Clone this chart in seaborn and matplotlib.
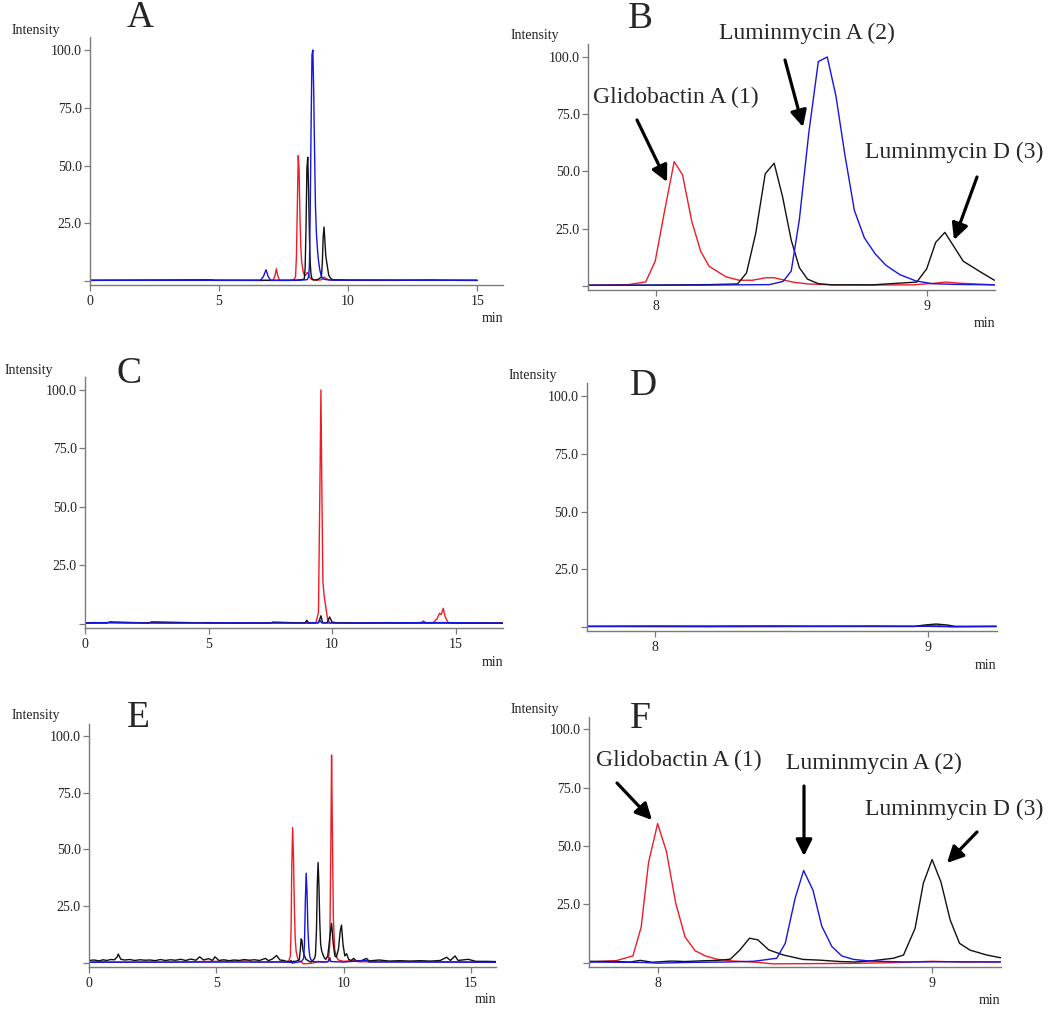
import numpy as np
import pandas as pd
import seaborn as sns
import matplotlib.pyplot as plt

# ---- Panel B: zoom (7.75-9.25 min) of chromatogram A ----
b_red_t = [7.75, 7.9, 7.963, 7.998, 8.033, 8.068, 8.099, 8.133, 8.166, 8.197, 8.259, 8.308,
           8.357, 8.406, 8.437, 8.505, 8.56, 8.65, 8.8, 8.95, 9.03, 9.07, 9.12, 9.25]
b_red = [0.3, 0.6, 1.8, 10.8, 33, 54.3, 48.5, 28.2, 15.1, 8.6, 4.0, 2.5,
         2.5, 3.6, 3.6, 1.7, 0.9, 0.5, 0.4, 0.5, 1.2, 1.7, 1.2, 0.5]
b_black_t = [7.75, 8.0, 8.2, 8.302, 8.335, 8.369, 8.404, 8.437, 8.468, 8.50, 8.53, 8.56, 8.60,
             8.65, 8.8, 8.963, 9.0, 9.033, 9.067, 9.135, 9.2, 9.25]
b_black = [0.3, 0.4, 0.6, 0.9, 5.7, 23, 49, 53.6, 39, 20, 8, 3, 1.0,
           0.5, 0.5, 1.7, 7.5, 19, 23.4, 10.8, 6.0, 2.5]
b_blue_t = [7.75, 8.0, 8.2, 8.42, 8.47, 8.50, 8.53, 8.565, 8.60, 8.633, 8.665, 8.697, 8.733,
            8.77, 8.81, 8.85, 8.9, 8.96, 9.02, 9.1, 9.25]
b_blue = [0.3, 0.3, 0.4, 0.6, 2, 6.5, 29, 67, 98, 100, 83, 58, 33,
          21, 14, 9, 5, 2.2, 1.0, 0.7, 0.5]

# ---- Panel A: parts of the full run outside the zoom window ----
a_red_pre_t = [0, 2, 4.7, 6.5, 7.1, 7.17, 7.22, 7.27, 7.34, 7.5]
a_red_pre = [0.3, 0.3, 0.4, 0.3, 0.3, 2.5, 5.3, 2.5, 0.3, 0.3]
a_red_post_t = [9.4, 10, 12, 13.2, 13.6, 14.2, 15]
a_red_post = [0.4, 0.3, 0.3, 0.5, 0.4, 0.3, 0.3]
a_black_pre_t = [0, 4.7, 4.8, 7.5]
a_black_pre = [0.3, 0.5, 0.3, 0.3]
a_black_post_t = [9.32, 9.4, 10, 15]
a_black_post = [1.2, 0.6, 0.4, 0.3]
a_blue_pre_t = [0, 6.6, 6.72, 6.82, 6.9, 7.0, 7.5]
a_blue_pre = [0.3, 0.3, 2, 4.9, 2, 0.3, 0.3]
a_blue_post_t = [9.35, 15]
a_blue_post = [0.4, 0.3]

# ---- Panel C ----
c_red_t = [0, 0.3, 0.9, 1.7, 2.4, 2.6, 3.5, 4.3, 5.0, 6.0, 7.5, 8.2, 9.0, 9.35, 9.45, 9.51,
           9.55, 9.59, 9.63, 9.68, 9.75, 9.82, 9.9, 10.2, 11.0, 12.3, 13.0, 13.6, 13.7, 13.8,
           14.1, 14.25, 14.35, 14.42, 14.5, 14.58, 14.7, 15.0, 16.0, 16.93]
c_red = [0.3, 0.5, 0.6, 0.4, 0.5, 0.6, 0.4, 0.5, 0.6, 0.4, 0.5, 0.4, 0.6, 0.5, 5, 60,
         100, 55, 18, 12, 7, 2, 0.6, 0.5, 0.4, 0.6, 0.5, 0.6, 1.3, 0.5,
         0.6, 2.2, 4.6, 4.0, 6.7, 3.0, 0.6, 0.4, 0.3, 0.3]
c_black_t = [0, 0.9, 1.0, 2.6, 2.7, 5.0, 7.5, 7.6, 8.9, 8.98, 9.05, 9.45, 9.55, 9.62, 9.8,
             9.9, 10.0, 10.2, 11, 13, 16.93]
c_black = [0.4, 0.4, 0.9, 0.4, 0.9, 0.4, 0.4, 0.8, 0.4, 1.6, 0.4, 0.5, 3.5, 0.5, 0.5,
           3.0, 0.8, 0.5, 0.4, 0.4, 0.4]
c_blue_t = [0, 0.3, 3, 6, 9.0, 9.45, 9.5, 9.58, 10, 14.5, 16.93]
c_blue = [0.4, 0.6, 0.4, 0.5, 0.4, 0.6, 1.6, 0.5, 0.4, 0.6, 0.4]

# ---- Panel D ----
d_red_t = [7.75, 8.2, 8.6, 8.95, 9.02, 9.08, 9.25]
d_red = [0.2, 0.1, 0.2, 0.2, 0.8, 0.2, 0.2]
d_black_t = [7.75, 8.4, 8.95, 8.99, 9.03, 9.07, 9.1, 9.25]
d_black = [0.3, 0.4, 0.3, 0.9, 1.3, 0.9, 0.3, 0.3]
d_blue_t = [7.75, 8.0, 8.2, 8.4, 8.6, 8.8, 9.0, 9.1, 9.25]
d_blue = [0.3, 0.4, 0.3, 0.4, 0.3, 0.4, 0.3, 0.1, 0.3]

# ---- Panel F: zoom (7.75-9.25 min) of chromatogram E ----
f_red_t = [7.75, 7.85, 7.91, 7.94, 7.967, 8.0, 8.032, 8.066, 8.1, 8.137, 8.174, 8.216, 8.265,
           8.36, 8.42, 8.55, 8.7, 8.85, 8.95, 9.0, 9.1, 9.25]
f_red = [0.3, 0.9, 2.9, 15.2, 43, 59.6, 47.7, 25.5, 11, 5.1, 2.9, 1.5, 0.8,
         0.2, -0.5, -0.4, -0.3, 0.0, 0.4, 0.6, 0.3, 0.3]
f_black_t = [7.75, 7.85, 7.9, 7.937, 7.98, 8.05, 8.1, 8.16, 8.22, 8.265, 8.30, 8.335, 8.365,
             8.405, 8.458, 8.53, 8.59, 8.665, 8.72, 8.786, 8.859, 8.896, 8.938, 8.968, 9.0,
             9.032, 9.066, 9.1, 9.138, 9.199, 9.25]
f_black = [0.6, 0.5, 0.3, 1.0, 0.2, 0.7, 0.5, 0.8, 1.0, 1.5, 5.5, 10.5, 9.8,
           5.5, 3.3, 1.4, 1.1, 0.5, 0.3, 0.9, 1.9, 3.3, 14.7, 34, 44.2,
           34.7, 18.3, 8.3, 5.4, 3.3, 2.1]
f_blue_t = [7.75, 7.95, 8.0, 8.1, 8.25, 8.35, 8.434, 8.465, 8.501, 8.532, 8.566, 8.598, 8.635,
            8.671, 8.714, 8.774, 8.9, 9.05, 9.25]
f_blue = [0.3, 0.1, -0.2, 0.1, 0.3, 0.6, 1.9, 8.3, 27.6, 39.5, 31.1, 15.7, 6.9,
          2.9, 1.4, 0.7, 0.3, 0.4, 0.3]

# ---- Panel E: parts of the full run outside the zoom window ----
e_black_pre_t = [0, 0.2, 0.4, 0.55, 0.7, 0.85, 1.0, 1.1, 1.15, 1.25, 1.4, 1.6, 1.8, 2.0, 2.2,
                 2.4, 2.6, 2.8, 3.0, 3.2, 3.4, 3.6, 3.8, 4.0, 4.2, 4.35, 4.5, 4.7, 4.85, 4.95,
                 5.1, 5.3, 5.5, 5.7, 5.9, 6.1, 6.3, 6.5, 6.7, 6.93, 7.05, 7.2, 7.37, 7.5, 7.65]
e_black_pre = [1.0, 1.2, 0.8, 1.3, 1.0, 1.4, 1.3, 2.5, 3.8, 1.5, 1.2, 1.4, 1.0, 1.3, 1.1,
               1.2, 0.9, 1.4, 1.0, 1.3, 1.1, 1.5, 1.0, 1.6, 1.1, 2.6, 1.2, 1.8, 1.0, 2.6,
               1.0, 1.3, 0.9, 1.2, 1.0, 1.4, 1.1, 1.3, 1.0, 1.9, 0.9, 1.6, 3.2, 1.2, 1.0]
e_black_post_t = [9.3, 9.38, 9.45, 9.53, 9.6, 9.66, 9.72, 9.8, 9.87, 9.92, 9.98, 10.05, 10.12,
                  10.2, 10.3, 10.4, 10.5, 10.7, 10.9, 11.0, 11.4, 11.8, 12.2, 12.6, 13.0, 13.4,
                  13.8, 14.05, 14.2, 14.38, 14.5, 14.9, 15.2, 15.6, 16.0]
e_black_post = [1.5, 3, 10, 17.4, 8, 3, 2.5, 6, 14, 16.6, 8, 3, 4,
                1.5, 1.0, 1.9, 0.8, 0.9, 1.9, 0.8, 1.2, 0.7, 0.9, 0.7, 0.9, 0.7,
                1.0, 2.4, 1.0, 3.0, 1.0, 1.5, 0.6, 0.6, 0.5]
e_red_pre_t = [0, 0.6, 0.7, 3.0, 6.3, 6.4, 7.5]
e_red_pre = [0.3, 0.5, 0.3, 0.3, 0.8, 0.3, 0.4]
e_red_post_t = [9.4, 9.46, 9.5, 9.53, 9.56, 9.6, 9.65, 9.72, 9.8, 10.0, 10.4, 10.6, 12.4, 16.0]
e_red_post = [0.5, 8, 50, 91.6, 60, 20, 6, 2.5, 1.2, 0.6, 1.0, 0.4, 0.6, 0.3]
e_blue_pre_t = [0, 7.6]
e_blue_pre = [0.2, 0.3]
e_blue_post_t = [9.3, 9.42, 9.46, 9.5, 10.0, 10.9, 11.0, 16.0]
e_blue_post = [0.3, 0.6, 2.2, 0.5, 0.3, 1.0, 0.3, 0.2]

TRACES = ['red', 'black', 'blue']
PALETTE = {'red': '#ee1c24', 'black': '#111111', 'blue': '#1515e0'}


def frame(traces):
    parts = []
    for name, (t, y) in zip(TRACES, traces):
        parts.append(pd.DataFrame({'time': t, 'intensity': y, 'trace': name}))
    return pd.concat(parts, ignore_index=True)


df_a = frame([(a_red_pre_t + b_red_t + a_red_post_t, a_red_pre + b_red + a_red_post),
              (a_black_pre_t + b_black_t + a_black_post_t, a_black_pre + b_black + a_black_post),
              (a_blue_pre_t + b_blue_t + a_blue_post_t, a_blue_pre + b_blue + a_blue_post)])
df_b = frame([(b_red_t, b_red), (b_black_t, b_black), (b_blue_t, b_blue)])
df_c = frame([(c_red_t, c_red), (c_black_t, c_black), (c_blue_t, c_blue)])
df_d = frame([(d_red_t, d_red), (d_black_t, d_black), (d_blue_t, d_blue)])
df_e = frame([(e_red_pre_t + f_red_t + e_red_post_t, e_red_pre + f_red + e_red_post),
              (e_black_pre_t + f_black_t + e_black_post_t, e_black_pre + f_black + e_black_post),
              (e_blue_pre_t + f_blue_t + e_blue_post_t, e_blue_pre + f_blue + e_blue_post)])
df_f = frame([(f_red_t, f_red), (f_black_t, f_black), (f_blue_t, f_blue)])

sns.set_style('ticks')
plt.rcParams['font.family'] = ['Liberation Serif', 'DejaVu Serif']

W, H = 1050, 1009
fig = plt.figure(figsize=(W / 100, H / 100), dpi=100)


def px(x, y):
    return (x / W, 1 - y / H)


def add_axes(x0, y0, x1, y1):
    return fig.add_axes([x0 / W, 1 - y1 / H, (x1 - x0) / W, (y1 - y0) / H])


# name, box (px), xlim, xticks, data, letter pos, "Intensity" pos, "min" pos
panels = [
    ('A', (90, 37.3, 503, 285.2), (0, 16.0), [0, 5, 10, 15], df_a, (140, 27), (36, 34), (503, 322)),
    ('B', (588, 44.4, 995, 290.1), (7.75, 9.252), [8, 9], df_b, (640, 28), (535, 39), (995, 327)),
    ('C', (85, 377.1, 503, 628.2), (0, 16.92), [0, 5, 10, 15], df_c, (129, 383), (29, 374), (503, 666)),
    ('D', (586.7, 383.3, 996.7, 631.2), (7.75, 9.252), [8, 9], df_d, (643, 395), (533, 379), (996.7, 669)),
    ('E', (89, 723.5, 496, 966.8), (0, 15.99), [0, 5, 10, 15], df_e, (138, 726.7), (36, 719), (496, 1003)),
    ('F', (589, 716.5, 1000.7, 966.9), (7.75, 9.25), [8, 9], df_f, (640, 728.3), (535, 713.3), (1000.7, 1004)),
]

for letter, box, xlim, xticks, df, lpos, ipos, mpos in panels:
    ax = add_axes(*box)
    sns.lineplot(data=df, x='time', y='intensity', hue='trace', hue_order=TRACES,
                 palette=PALETTE, estimator=None, sort=False, legend=False,
                 linewidth=1.0, ax=ax)
    ax.set_xlim(*xlim)
    ax.set_ylim(-1.8, 105.5)
    ax.set_yticks([0, 25, 50, 75, 100])
    ax.set_yticklabels(['', '25.0', '50.0', '75.0', '100.0'])
    ax.set_xticks(xticks)
    ax.set_xticklabels([str(v) for v in xticks])
    ax.set_xlabel('')
    ax.set_ylabel('')
    for side in ['top', 'right']:
        ax.spines[side].set_visible(False)
    for side in ['left', 'bottom']:
        ax.spines[side].set_color('#7a7a7a')
        ax.spines[side].set_linewidth(1.0)
    ax.tick_params(axis='y', length=4, width=0.9, color='#7a7a7a', pad=2, labelsize=10,
                   labelcolor='#222222')
    ax.tick_params(axis='x', length=4, width=0.9, color='#7a7a7a', pad=3, labelsize=10,
                   labelcolor='#222222')
    fig.text(*px(*lpos), letter, fontsize=27, ha='center', va='baseline')
    fig.text(*px(*ipos), 'Intensity', fontsize=10, ha='center', va='baseline', color='#222222')
    fig.text(*px(*mpos), 'min', fontsize=10, ha='right', va='baseline', color='#222222')

# compound labels with arrows (panels B and F)
labels = [
    ('Glidobactin A (1)', (593, 103.3), (637, 120), (667, 182)),
    ('Luminmycin A (2)', (719, 39.3), (785, 60), (803, 127)),
    ('Luminmycin D (3)', (865, 158.3), (977, 177), (954, 240)),
    ('Glidobactin A (1)', (596, 766), (617, 783), (652, 820)),
    ('Luminmycin A (2)', (786, 769.3), (804, 786), (804, 856)),
    ('Luminmycin D (3)', (865, 815), (977, 832), (947, 863)),
]
for text, tpos, tail, tip in labels:
    fig.text(*px(*tpos), text, fontsize=17, ha='left', va='baseline')
    fig.patches.append(plt.matplotlib.patches.FancyArrowPatch(
        px(*tail), px(*tip), transform=fig.transFigure,
        arrowstyle='-|>,head_length=0.7,head_width=0.35', mutation_scale=14,
        lw=2.3, color='black', shrinkA=0, shrinkB=0))

fig.savefig('out.png', dpi=100)
